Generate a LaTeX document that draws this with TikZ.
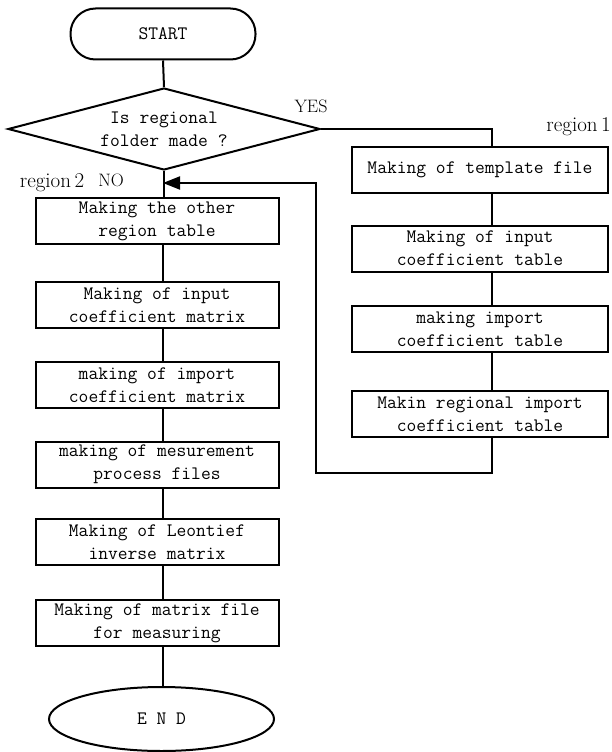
\documentclass[tikz,border=0pt]{standalone}
\usetikzlibrary{shapes.geometric,arrows.meta}
\begin{document}
\begin{tikzpicture}[x=1pt,y=-1pt,
  every node/.style={font=\fontsize{19}{23}\selectfont\ttfamily},
  line/.style={line width=2pt},
  procbox/.style={draw,line width=2pt,rectangle,minimum width=243pt,minimum height=46pt,inner xsep=2pt,inner ysep=2pt,align=center},
  rbox/.style={procbox,minimum width=256pt},
  lbl/.style={font=\fontsize{18}{22}\selectfont\rmfamily,inner sep=0pt},
  reglbl/.style={font=\fontsize{21}{24}\selectfont\rmfamily,inner sep=0pt}
]
\useasboundingbox (0,0) rectangle (611,752);

% terminals and decision
\node[draw,line width=2pt,rectangle,rounded corners=25pt,minimum width=185pt,minimum height=51pt] (start) at (163,34) {START};
\node[draw,line width=2pt,diamond,aspect=3.8,inner sep=0pt,minimum width=312pt,minimum height=82pt,align=center] (dec) at (164,129) {Is regional\\folder made ?};

% left column (region 2)
\node[procbox] (l1) at (157,221) {Making the other\\region table};
\node[procbox] (l2) at (157,305) {Making of input\\coefficient matrix};
\node[procbox] (l3) at (157,385) {making of import\\coefficient matrix};
\node[procbox] (l4) at (157,464.5) {making of mesurement\\process files};
\node[procbox] (l5) at (157,542) {Making of Leontief\\inverse matrix};
\node[procbox] (l6) at (157,623) {Making of matrix file\\for measuring};
\node[draw,line width=2pt,ellipse,minimum width=225pt,minimum height=64pt,inner sep=0pt] (fin) at (161.5,719) {E N D};

% right column (region 1)
\node[rbox] (r1) at (480,170) {Making of template file};
\node[rbox] (r2) at (480,248.5) {Making of input\\coefficient table};
\node[rbox] (r3) at (480,329) {making import\\coefficient table};
\node[rbox] (r4) at (480,414) {Makin regional import\\coefficient table};

% labels
\node[lbl] (yes) at (311,106) {YES};
\node[lbl] (no) at (111,180) {NO};
\node[reglbl] (reg2) at (52,183) {region\,2};
\node[reglbl,anchor=east] (reg1) at (611,127) {region\,1};

% connector columns
\coordinate (lc) at (163,0);
\coordinate (rc) at (492,0);
\coordinate (loopb) at (316,473);
\coordinate (arr) at (163,183);

% left flow
\draw[line] (start.south) -- (dec.north);
\draw[line] (dec.south) -- (l1.north -| dec.south);
\foreach \a/\b in {l1/l2,l2/l3,l3/l4,l4/l5,l5/l6,l6/fin}
  \draw[line] (\a.south -| lc) -- (\b.north -| lc);

% right flow
\draw[line] (dec.east) -| (r1.north -| rc);
\foreach \a/\b in {r1/r2,r2/r3,r3/r4}
  \draw[line] (\a.south -| rc) -- (\b.north -| rc);

% return loop into region 2
\draw[line,-{Triangle[length=17pt,width=13pt]}] (r4.south -| rc) -- (loopb -| rc) -- (loopb) -- (loopb |- arr) -- (arr);
\end{tikzpicture}
\end{document}
